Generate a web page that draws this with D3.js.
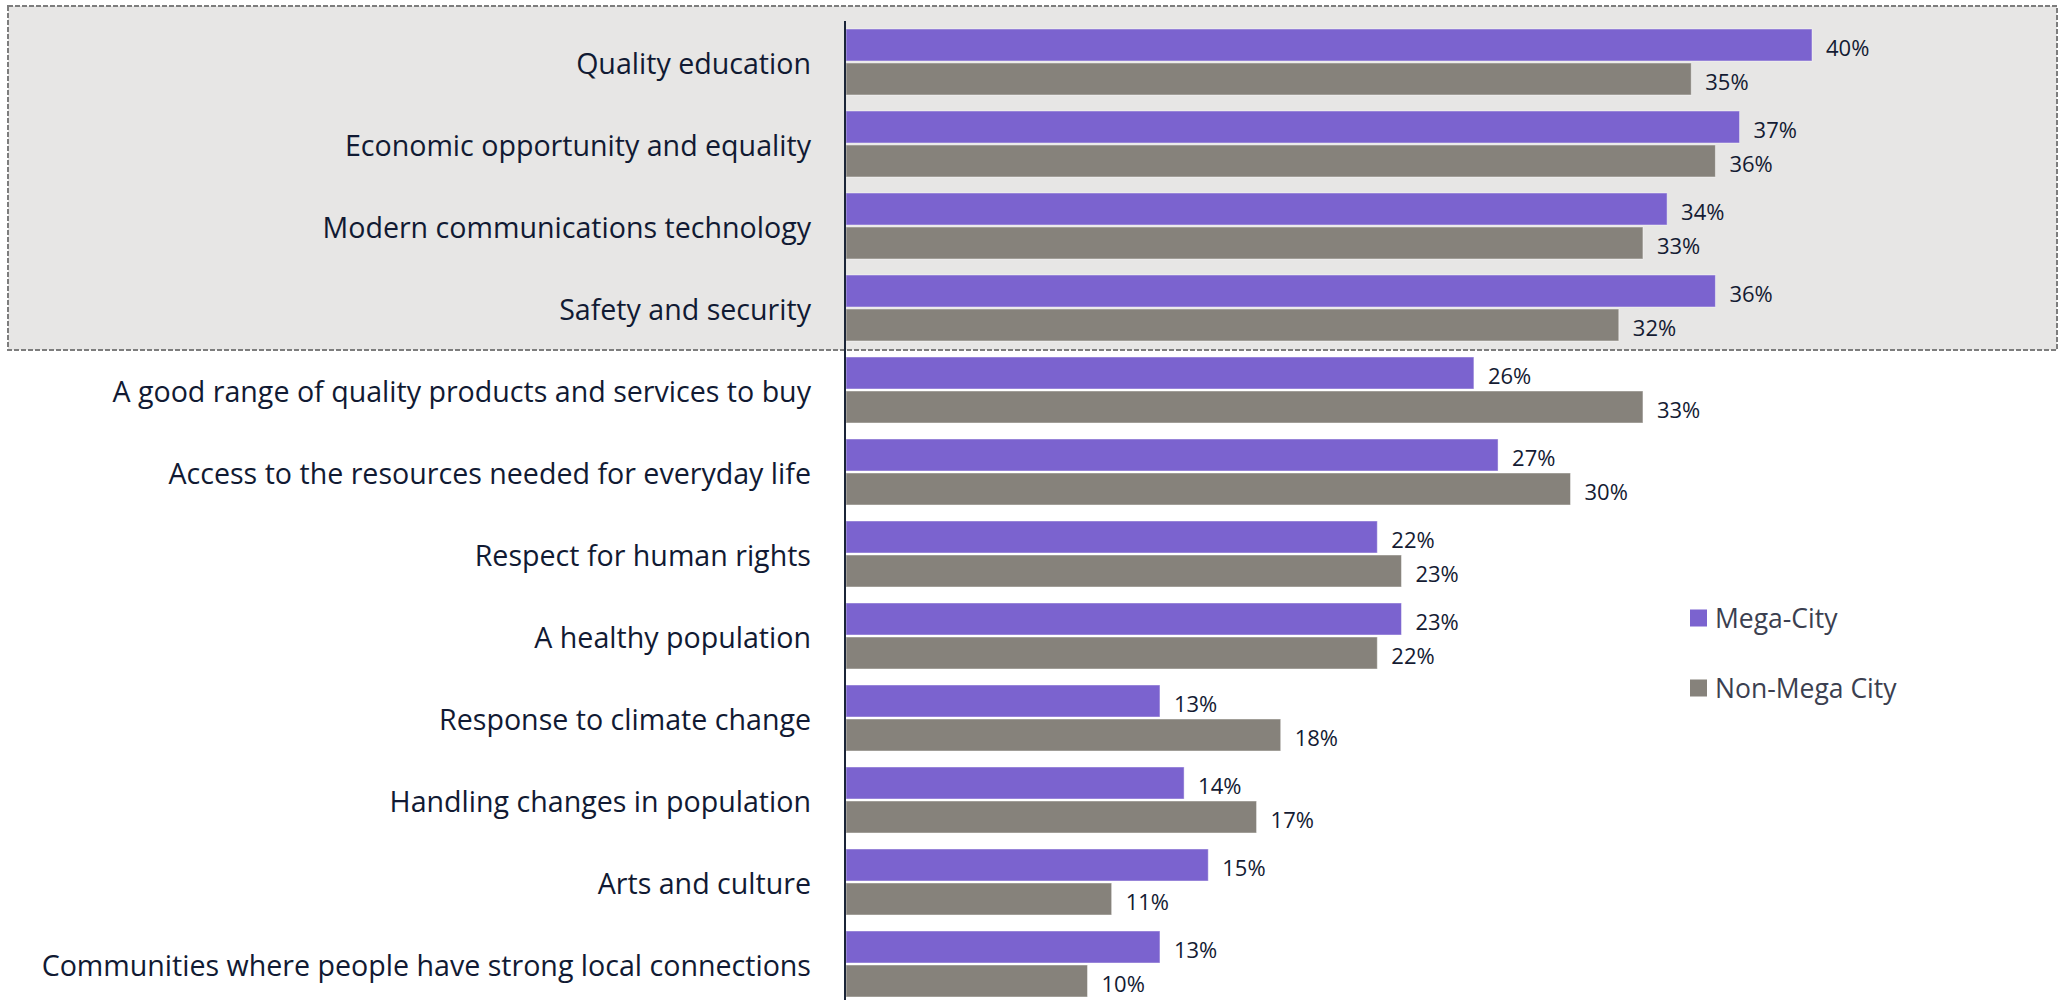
<!DOCTYPE html>
<html>
<head>
<meta charset="utf-8">
<script src="https://cdn.jsdelivr.net/npm/d3@7"></script>
<style>
  html, body { margin: 0; padding: 0; background: #fff; }
  svg { display: block; }
</style>
</head>
<body>
<script>
// data
const categories = [
  "Quality education",
  "Economic opportunity and equality",
  "Modern communications technology",
  "Safety and security",
  "A good range of quality products and services to buy",
  "Access to the resources needed for everyday life",
  "Respect for human rights",
  "A healthy population",
  "Response to climate change",
  "Handling changes in population",
  "Arts and culture",
  "Communities where people have strong local connections"
];
const megaCity    = [40, 37, 34, 36, 26, 27, 22, 23, 13, 14, 15, 13];
const nonMegaCity = [35, 36, 33, 32, 33, 30, 23, 22, 18, 17, 11, 10];
const seriesNames = ["Mega-City", "Non-Mega City"];
const highlighted = categories.slice(0, 4);

const width = 2069, height = 1000;
const colors = { "Mega-City": "#7b63cf", "Non-Mega City": "#86827b" };

const svg = d3.select("body").append("svg")
  .attr("width", width)
  .attr("height", height)
  .style("font-family", "'Open Sans', sans-serif");

const x = d3.scaleLinear().domain([0, 40]).range([846, 846 + 966]);
const y = d3.scaleBand().domain(categories).range([21, 21 + 12 * 82]);
const ySub = d3.scaleBand().domain(seriesNames).range([8, 74]).paddingInner(2 / 34);

// shaded box behind the top four items
const hTop = y(highlighted[0]) - 15;
const hBottom = y(highlighted[highlighted.length - 1]) + y.step() + 1;
svg.append("rect")
  .attr("x", 8)
  .attr("y", hTop)
  .attr("width", 2049)
  .attr("height", hBottom - hTop)
  .attr("fill", "#e7e6e5")
  .attr("stroke", "#7d7d7d")
  .attr("stroke-width", 2)
  .attr("stroke-dasharray", "5,2");

const rows = categories.map((c, i) => ({
  category: c,
  values: [
    { key: "Mega-City", value: megaCity[i] },
    { key: "Non-Mega City", value: nonMegaCity[i] }
  ]
}));

const group = svg.append("g")
  .selectAll("g")
  .data(rows)
  .join("g")
  .attr("transform", d => `translate(0,${y(d.category)})`);

group.selectAll("rect")
  .data(d => d.values)
  .join("rect")
  .attr("x", x(0))
  .attr("y", d => ySub(d.key))
  .attr("width", d => x(d.value) - x(0))
  .attr("height", ySub.bandwidth())
  .attr("fill", d => colors[d.key])
  .attr("stroke", "#ffffff")
  .attr("stroke-opacity", 0.45)
  .attr("stroke-width", 1);

group.selectAll("text.value")
  .data(d => d.values)
  .join("text")
  .attr("class", "value")
  .attr("x", d => x(d.value) + 14)
  .attr("y", d => ySub(d.key) + ySub.bandwidth() / 2 + 2)
  .attr("dominant-baseline", "central")
  .attr("font-size", 22)
  .attr("fill", "#141b33")
  .text(d => d.value + "%");

// category labels
svg.append("g")
  .selectAll("text")
  .data(categories)
  .join("text")
  .attr("x", 811)
  .attr("y", d => y(d) + y.bandwidth() / 2)
  .attr("text-anchor", "end")
  .attr("dominant-baseline", "central")
  .attr("font-size", 28.6)
  .attr("fill", "#111a33")
  .text(d => d);

// vertical axis line
svg.append("line")
  .attr("x1", 845).attr("x2", 845)
  .attr("y1", 21).attr("y2", height)
  .attr("stroke", "#1b2538")
  .attr("stroke-width", 2);

// legend
const legend = svg.append("g")
  .selectAll("g")
  .data(seriesNames)
  .join("g")
  .attr("transform", (d, i) => `translate(1690,${618 + i * 70})`);

legend.append("rect")
  .attr("x", 0).attr("y", -8.5)
  .attr("width", 17).attr("height", 17)
  .attr("fill", d => colors[d]);

legend.append("text")
  .attr("x", 25)
  .attr("y", 0)
  .attr("dominant-baseline", "central")
  .attr("font-size", 26.5)
  .attr("fill", "#3b3f50")
  .text(d => d);
</script>
</body>
</html>
